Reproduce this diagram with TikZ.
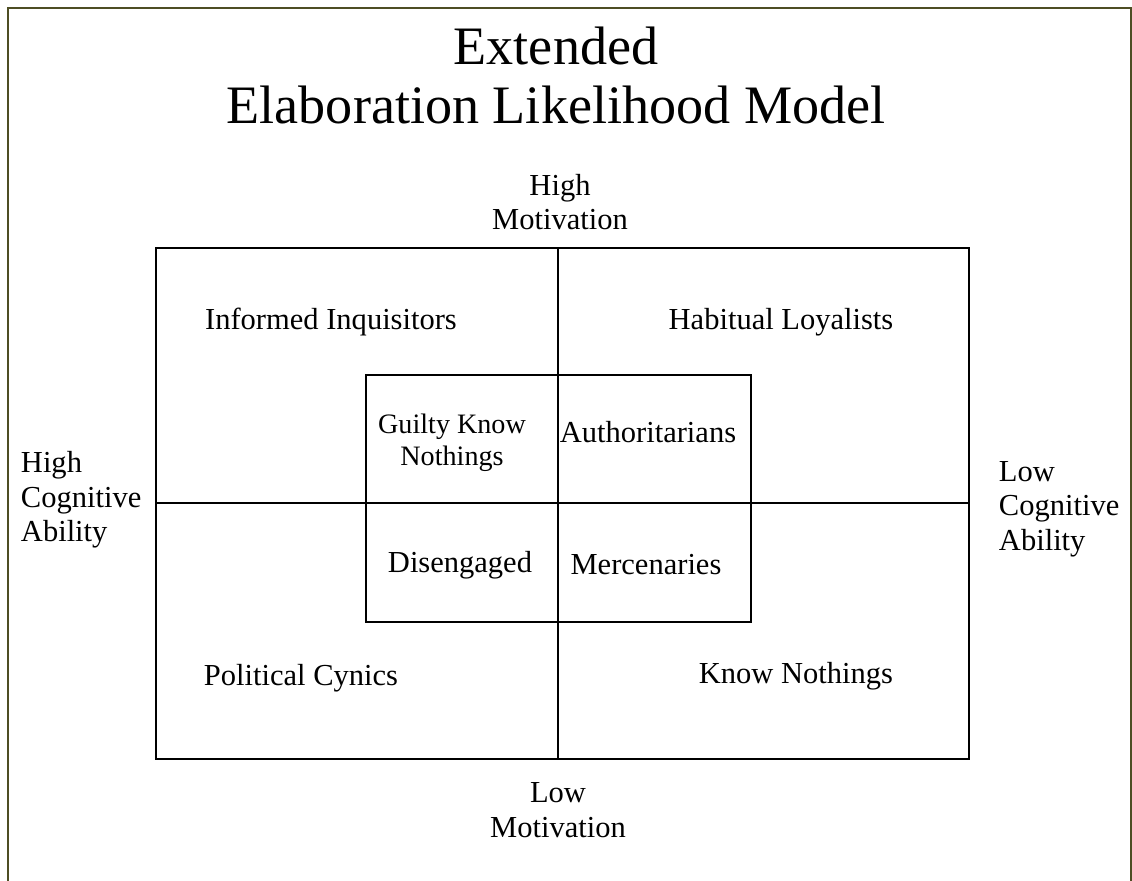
\documentclass[tikz,border=0pt]{standalone}
\usepackage{fontspec}
\setmainfont{Liberation Serif}
\definecolor{frame}{RGB}{78,78,36}

\begin{document}
\begin{tikzpicture}[x=0.025cm, y=-0.025cm, line width=1.4pt,
  every node/.style={inner sep=0pt, align=center, font=\fontsize{21.7}{24.5}\selectfont}]
  \useasboundingbox (0,0) rectangle (1132,881);
  \draw[frame, line width=1.5pt] (8,881) -- (8,8) -- (1131,8) -- (1131,881);
  \node[anchor=base, font=\fontsize{38.5}{40}\selectfont] (title1) at (556,64) {Extended};
  \node[anchor=base, font=\fontsize{38.5}{40}\selectfont] (title2) at (556,123) {Elaboration Likelihood Model};
  % quadrants
  \draw (156,248) rectangle (969,759);
  \draw (558,248) -- (558,759);
  \draw (156,503) -- (969,503);
  \draw (366,375) rectangle (751,622);
  % axes
  \node (hm) at (560,202) {High\\Motivation};
  \node (lm) at (558,810) {Low\\Motivation};
  \node[anchor=west, align=left] (hca) at (20,500) {High\\Cognitive\\Ability};
  \node[anchor=west, align=left] (lca) at (998,509) {Low\\Cognitive\\Ability};
  % outer groups
  \node (ii) at (331,322) {Informed Inquisitors};
  \node (hl) at (781,322) {Habitual Loyalists};
  \node (pc) at (301,678) {Political Cynics};
  \node (kn) at (796,676) {Know Nothings};
  % inner groups
  \node[font=\fontsize{20}{23}\selectfont] (gkn) at (452,443) {Guilty Know\\Nothings};
  \node (au) at (648,432) {Authoritarians};
  \node (di) at (460,565) {Disengaged};
  \node (me) at (646,565) {Mercenaries};
\end{tikzpicture}
\end{document}
